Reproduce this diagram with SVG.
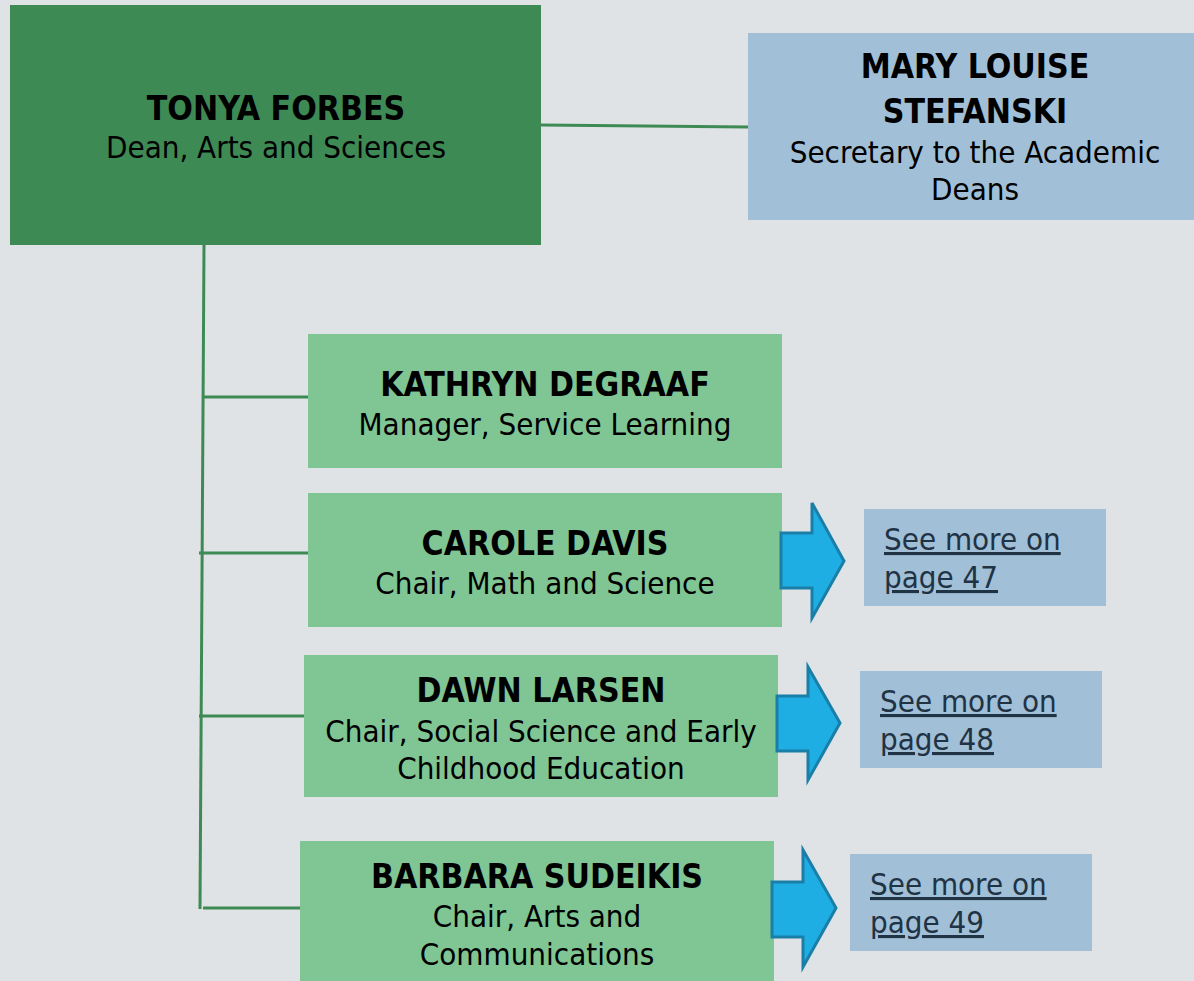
<svg xmlns="http://www.w3.org/2000/svg" width="1194" height="981" viewBox="0 0 1194 981">
<style>
.bg{fill:#dfe3e6}
.dean{fill:#3e8a55}
.staff{fill:#80c594}
.sec{fill:#a1bfd6}
.link{fill:#a1bfd6}
.t{font-family:"DejaVu Sans Condensed","DejaVu Sans","Liberation Sans",sans-serif;font-stretch:condensed;fill:#000;text-anchor:middle}
.b{font-weight:bold;font-size:33.5px}
.r{font-size:31px}
.u{font-family:"DejaVu Sans Condensed","DejaVu Sans","Liberation Sans",sans-serif;font-stretch:condensed;font-size:31px;fill:#1f3344;text-decoration:underline}
.conn{stroke:#3e8a55;stroke-width:3;fill:none}
.arrow{fill:#1eaee3;stroke:#1a7fa8;stroke-width:3;stroke-linejoin:miter}
</style>
<rect class="bg" x="0" y="0" width="1194" height="981"/>
<g id="connectors">
<line class="conn" x1="541" y1="125" x2="748" y2="127"/>
<line class="conn" x1="204" y1="245" x2="200" y2="909"/>
<line class="conn" x1="204" y1="397" x2="308" y2="397"/>
<line class="conn" x1="199" y1="553" x2="310" y2="553"/>
<line class="conn" x1="199" y1="716" x2="310" y2="716"/>
<line class="conn" x1="203" y1="908" x2="304" y2="908"/>
</g>
<g id="tonya">
<rect class="dean" x="10" y="5" width="531" height="240"/>
<text class="t b" x="276" y="120">TONYA FORBES</text>
<text class="t r" x="276" y="158">Dean, Arts and Sciences</text>
</g>
<g id="mary">
<rect class="sec" x="748" y="33" width="450" height="187"/>
<text class="t b" x="975" y="78">MARY LOUISE</text>
<text class="t b" x="975" y="123">STEFANSKI</text>
<text class="t r" x="975" y="163">Secretary to the Academic</text>
<text class="t r" x="975" y="200">Deans</text>
</g>
<g id="kathryn">
<rect class="staff" x="308" y="334" width="474" height="134"/>
<text class="t b" x="545" y="396">KATHRYN DEGRAAF</text>
<text class="t r" x="545" y="435">Manager, Service Learning</text>
</g>
<g id="carole">
<rect class="staff" x="308" y="493" width="474" height="134"/>
<text class="t b" x="545" y="555">CAROLE DAVIS</text>
<text class="t r" x="545" y="594">Chair, Math and Science</text>
</g>
<g id="carole-arrow">
<polygon class="arrow" points="781,533 812,533 812,503 844,561 812,618 812,588 781,588"/>
</g>
<g id="carole-link">
<rect class="link" x="864" y="509" width="242" height="97"/>
<text class="u" x="884" y="550">See more on</text>
<text class="u" x="884" y="588">page 47</text>
</g>
<g id="dawn">
<rect class="staff" x="304" y="655" width="474" height="142"/>
<text class="t b" x="541" y="702">DAWN LARSEN</text>
<text class="t r" x="541" y="742">Chair, Social Science and Early</text>
<text class="t r" x="541" y="779">Childhood Education</text>
</g>
<g id="dawn-arrow">
<polygon class="arrow" points="777,696 808,696 808,667 840,723 808,780 808,751 777,751"/>
</g>
<g id="dawn-link">
<rect class="link" x="860" y="671" width="242" height="97"/>
<text class="u" x="880" y="712">See more on</text>
<text class="u" x="880" y="750">page 48</text>
</g>
<g id="barbara">
<rect class="staff" x="300" y="841" width="474" height="145"/>
<text class="t b" x="537" y="888">BARBARA SUDEIKIS</text>
<text class="t r" x="537" y="927">Chair, Arts and</text>
<text class="t r" x="537" y="965">Communications</text>
</g>
<g id="barbara-arrow">
<polygon class="arrow" points="772,882 803,882 803,850 836,908 803,967 803,937 772,937"/>
</g>
<g id="barbara-link">
<rect class="link" x="850" y="854" width="242" height="97"/>
<text class="u" x="870" y="895">See more on</text>
<text class="u" x="870" y="933">page 49</text>
</g>
</svg>
